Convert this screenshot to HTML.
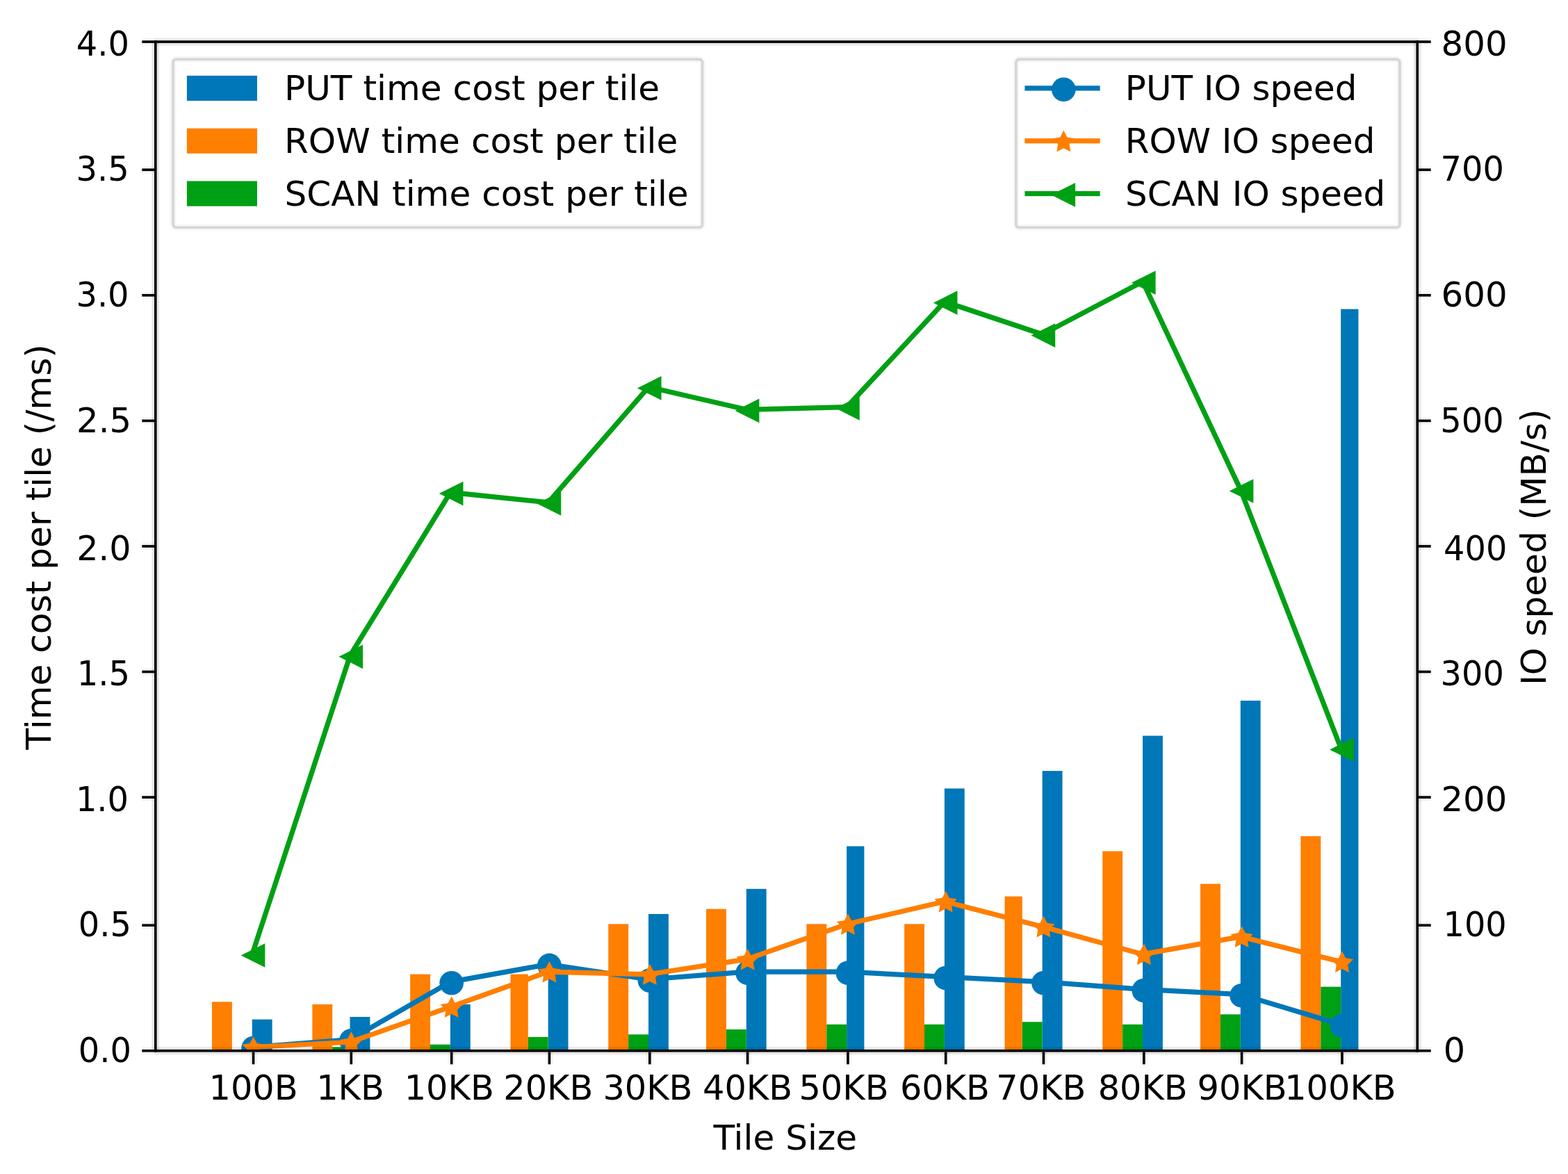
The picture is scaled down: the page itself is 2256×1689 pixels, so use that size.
<!DOCTYPE html>
<html lang="en">
<head>
<meta charset="utf-8">
<title>Tile size vs time cost and IO speed</title>
<style>
html,body{margin:0;padding:0;background:#ffffff;}
body{width:2256px;height:1689px;overflow:hidden;position:relative;font-family:"DejaVu Sans","Liberation Sans",sans-serif;}
svg{display:block;position:absolute;left:0;top:0;}
svg text{white-space:pre;}
</style>
</head>
<body>
<svg width="2256" height="1689" viewBox="0 0 2256 1689">
<rect x="0" y="0" width="2256" height="1689" fill="#ffffff"/>
<defs><clipPath id="axclip"><rect x="66.50" y="20.50" width="503.00" height="402.00"/></clipPath></defs>
<g transform="matrix(3.6093 0 0 3.611 -16.242 -13.926)" font-family="'DejaVu Sans', 'Liberation Sans', sans-serif" font-size="13.7" fill="#000000">
<g clip-path="url(#axclip)">
<rect x="105.00" y="410.00" width="8.00" height="12.50" fill="#0077b8" />
<rect x="89.00" y="403.00" width="8.00" height="19.50" fill="#ff7f00" />
<rect x="144.00" y="409.00" width="8.00" height="13.50" fill="#0077b8" />
<rect x="129.00" y="404.00" width="8.00" height="18.50" fill="#ff7f00" />
<rect x="137.00" y="421.00" width="7.00" height="1.50" fill="#00a014" />
<rect x="184.00" y="404.00" width="8.00" height="18.50" fill="#0077b8" />
<rect x="168.00" y="392.00" width="8.00" height="30.50" fill="#ff7f00" />
<rect x="176.00" y="420.00" width="8.00" height="2.50" fill="#00a014" />
<rect x="223.00" y="389.00" width="8.00" height="33.50" fill="#0077b8" />
<rect x="208.00" y="392.00" width="7.00" height="30.50" fill="#ff7f00" />
<rect x="215.00" y="417.00" width="8.00" height="5.50" fill="#00a014" />
<rect x="263.00" y="368.00" width="8.00" height="54.50" fill="#0077b8" />
<rect x="247.00" y="372.00" width="8.00" height="50.50" fill="#ff7f00" />
<rect x="255.00" y="416.00" width="8.00" height="6.50" fill="#00a014" />
<rect x="302.00" y="358.00" width="8.00" height="64.50" fill="#0077b8" />
<rect x="286.00" y="366.00" width="8.00" height="56.50" fill="#ff7f00" />
<rect x="294.00" y="414.00" width="8.00" height="8.50" fill="#00a014" />
<rect x="342.00" y="341.00" width="7.00" height="81.50" fill="#0077b8" />
<rect x="326.00" y="372.00" width="8.00" height="50.50" fill="#ff7f00" />
<rect x="334.00" y="412.00" width="8.00" height="10.50" fill="#00a014" />
<rect x="381.00" y="318.00" width="8.00" height="104.50" fill="#0077b8" />
<rect x="365.00" y="372.00" width="8.00" height="50.50" fill="#ff7f00" />
<rect x="373.00" y="412.00" width="8.00" height="10.50" fill="#00a014" />
<rect x="420.00" y="311.00" width="8.00" height="111.50" fill="#0077b8" />
<rect x="405.00" y="361.00" width="7.00" height="61.50" fill="#ff7f00" />
<rect x="412.00" y="411.00" width="8.00" height="11.50" fill="#00a014" />
<rect x="460.00" y="297.00" width="8.00" height="125.50" fill="#0077b8" />
<rect x="444.00" y="343.00" width="8.00" height="79.50" fill="#ff7f00" />
<rect x="452.00" y="412.00" width="8.00" height="10.50" fill="#00a014" />
<rect x="499.00" y="283.00" width="8.00" height="139.50" fill="#0077b8" />
<rect x="483.00" y="356.00" width="8.00" height="66.50" fill="#ff7f00" />
<rect x="491.00" y="408.00" width="8.00" height="14.50" fill="#00a014" />
<rect x="539.00" y="127.00" width="7.00" height="295.50" fill="#0077b8" />
<rect x="523.00" y="337.00" width="8.00" height="85.50" fill="#ff7f00" />
<rect x="531.00" y="397.00" width="8.00" height="25.50" fill="#00a014" />
</g>
<text x="34.920" y="26.000" textLength="21.094" lengthAdjust="spacingAndGlyphs">4.0</text>
<text x="34.870" y="76.000" textLength="21.094" lengthAdjust="spacingAndGlyphs">3.5</text>
<text x="34.820" y="126.000" textLength="21.094" lengthAdjust="spacingAndGlyphs">3.0</text>
<text x="35.010" y="176.000" textLength="21.867" lengthAdjust="spacingAndGlyphs">2.5</text>
<text x="35.060" y="227.000" textLength="21.647" lengthAdjust="spacingAndGlyphs">2.0</text>
<text x="35.220" y="277.000" textLength="21.094" lengthAdjust="spacingAndGlyphs">1.5</text>
<text x="34.670" y="327.000" textLength="21.094" lengthAdjust="spacingAndGlyphs">1.0</text>
<text x="35.770" y="377.000" textLength="21.094" lengthAdjust="spacingAndGlyphs">0.5</text>
<text x="35.770" y="427.000" textLength="21.094" lengthAdjust="spacingAndGlyphs">0.0</text>
<text x="87.751" y="442.000" textLength="35.498" lengthAdjust="spacingAndGlyphs">100B</text>
<text x="130.620" y="442.000" textLength="27.061" lengthAdjust="spacingAndGlyphs">1KB</text>
<text x="165.668" y="442.000" textLength="35.765" lengthAdjust="spacingAndGlyphs">10KB</text>
<text x="205.168" y="442.000" textLength="35.765" lengthAdjust="spacingAndGlyphs">20KB</text>
<text x="244.818" y="442.000" textLength="35.765" lengthAdjust="spacingAndGlyphs">30KB</text>
<text x="284.618" y="442.000" textLength="35.765" lengthAdjust="spacingAndGlyphs">40KB</text>
<text x="322.968" y="442.000" textLength="35.765" lengthAdjust="spacingAndGlyphs">50KB</text>
<text x="363.268" y="442.000" textLength="35.765" lengthAdjust="spacingAndGlyphs">60KB</text>
<text x="401.618" y="442.000" textLength="35.765" lengthAdjust="spacingAndGlyphs">70KB</text>
<text x="442.168" y="442.000" textLength="35.765" lengthAdjust="spacingAndGlyphs">80KB</text>
<text x="481.768" y="442.000" textLength="35.765" lengthAdjust="spacingAndGlyphs">90KB</text>
<text x="516.565" y="442.000" textLength="44.469" lengthAdjust="spacingAndGlyphs">100KB</text>
<text x="288.900" y="461.900" textLength="57.245" lengthAdjust="spacingAndGlyphs">Tile Size</text>
<text transform="translate(24.750,302.500) rotate(-90)" textLength="161.528" lengthAdjust="spacingAndGlyphs">Time cost per tile (/ms)</text>
<rect x="73.50" y="27.50" width="211.00" height="67.00" rx="1.3" ry="1.3" fill="#ffffff" fill-opacity="0.8" stroke="#f6f6f6" stroke-width="2.4"/>
<rect x="73.50" y="27.50" width="211.00" height="67.00" rx="1.3" ry="1.3" fill="none" stroke="#d6d6d6" stroke-width="1"/>
<rect x="79.00" y="34.00" width="28.00" height="10.00" fill="#0077b8" />
<text x="117.800" y="43.800" textLength="149.660" lengthAdjust="spacingAndGlyphs">PUT time cost per tile</text>
<rect x="79.00" y="55.00" width="28.00" height="10.00" fill="#ff7f00" />
<text x="117.800" y="64.800" textLength="156.950" lengthAdjust="spacingAndGlyphs">ROW time cost per tile</text>
<rect x="79.00" y="76.00" width="28.00" height="10.00" fill="#00a014" />
<text x="117.950" y="85.800" textLength="161.040" lengthAdjust="spacingAndGlyphs">SCAN time cost per tile</text>
<g clip-path="url(#axclip)">
<polyline points="105.05,421.05 144.05,418.05 184.05,395.05 223.05,388.05 263.05,394.05 302.05,391.05 342.05,391.05 381.05,393.05 420.05,395.05 460.05,398.05 499.05,400.05 539.05,412.05" fill="none" stroke="#0077b8" stroke-width="2.000" stroke-linejoin="round" stroke-linecap="butt"/>
<circle cx="105.50" cy="421.50" r="4.8" fill="#0077b8"/>
<circle cx="144.50" cy="418.50" r="4.8" fill="#0077b8"/>
<circle cx="184.50" cy="395.50" r="4.8" fill="#0077b8"/>
<circle cx="223.50" cy="388.50" r="4.8" fill="#0077b8"/>
<circle cx="263.50" cy="394.50" r="4.8" fill="#0077b8"/>
<circle cx="302.50" cy="391.50" r="4.8" fill="#0077b8"/>
<circle cx="342.50" cy="391.50" r="4.8" fill="#0077b8"/>
<circle cx="381.50" cy="393.50" r="4.8" fill="#0077b8"/>
<circle cx="420.50" cy="395.50" r="4.8" fill="#0077b8"/>
<circle cx="460.50" cy="398.50" r="4.8" fill="#0077b8"/>
<circle cx="499.50" cy="400.50" r="4.8" fill="#0077b8"/>
<circle cx="539.50" cy="412.50" r="4.8" fill="#0077b8"/>
<polyline points="105.05,421.05 144.05,419.05 184.05,405.05 223.05,391.05 263.05,392.05 302.05,386.05 342.05,372.05 381.05,363.05 420.05,373.05 460.05,384.05 499.05,377.05 539.05,387.05" fill="none" stroke="#ff7f00" stroke-width="2.000" stroke-linejoin="round" stroke-linecap="butt"/>
<polygon points="105.50,416.80 104.09,419.56 101.03,420.05 103.22,422.24 102.74,425.30 105.50,423.90 108.26,425.30 107.78,422.24 109.97,420.05 106.91,419.56" fill="#ff7f00"/>
<polygon points="144.50,414.80 143.09,417.56 140.03,418.05 142.22,420.24 141.74,423.30 144.50,421.90 147.26,423.30 146.78,420.24 148.97,418.05 145.91,417.56" fill="#ff7f00"/>
<polygon points="184.50,400.80 183.09,403.56 180.03,404.05 182.22,406.24 181.74,409.30 184.50,407.90 187.26,409.30 186.78,406.24 188.97,404.05 185.91,403.56" fill="#ff7f00"/>
<polygon points="223.50,386.80 222.09,389.56 219.03,390.05 221.22,392.24 220.74,395.30 223.50,393.90 226.26,395.30 225.78,392.24 227.97,390.05 224.91,389.56" fill="#ff7f00"/>
<polygon points="263.50,387.80 262.09,390.56 259.03,391.05 261.22,393.24 260.74,396.30 263.50,394.90 266.26,396.30 265.78,393.24 267.97,391.05 264.91,390.56" fill="#ff7f00"/>
<polygon points="302.50,381.80 301.09,384.56 298.03,385.05 300.22,387.24 299.74,390.30 302.50,388.90 305.26,390.30 304.78,387.24 306.97,385.05 303.91,384.56" fill="#ff7f00"/>
<polygon points="342.50,367.80 341.09,370.56 338.03,371.05 340.22,373.24 339.74,376.30 342.50,374.90 345.26,376.30 344.78,373.24 346.97,371.05 343.91,370.56" fill="#ff7f00"/>
<polygon points="381.50,358.80 380.09,361.56 377.03,362.05 379.22,364.24 378.74,367.30 381.50,365.90 384.26,367.30 383.78,364.24 385.97,362.05 382.91,361.56" fill="#ff7f00"/>
<polygon points="420.50,368.80 419.09,371.56 416.03,372.05 418.22,374.24 417.74,377.30 420.50,375.90 423.26,377.30 422.78,374.24 424.97,372.05 421.91,371.56" fill="#ff7f00"/>
<polygon points="460.50,379.80 459.09,382.56 456.03,383.05 458.22,385.24 457.74,388.30 460.50,386.90 463.26,388.30 462.78,385.24 464.97,383.05 461.91,382.56" fill="#ff7f00"/>
<polygon points="499.50,372.80 498.09,375.56 495.03,376.05 497.22,378.24 496.74,381.30 499.50,379.90 502.26,381.30 501.78,378.24 503.97,376.05 500.91,375.56" fill="#ff7f00"/>
<polygon points="539.50,382.80 538.09,385.56 535.03,386.05 537.22,388.24 536.74,391.30 539.50,389.90 542.26,391.30 541.78,388.24 543.97,386.05 540.91,385.56" fill="#ff7f00"/>
<polyline points="105.05,384.05 144.05,265.05 184.05,200.05 223.05,204.05 263.05,158.05 302.05,167.05 342.05,166.05 381.05,124.05 420.05,137.05 460.05,116.05 499.05,199.05 539.05,302.05" fill="none" stroke="#00a014" stroke-width="2.000" stroke-linejoin="round" stroke-linecap="butt"/>
<polygon points="100.55,384.50 110.15,379.70 110.15,389.30" fill="#00a014"/>
<polygon points="139.55,265.50 149.15,260.70 149.15,270.30" fill="#00a014"/>
<polygon points="179.55,200.50 189.15,195.70 189.15,205.30" fill="#00a014"/>
<polygon points="218.55,204.50 228.15,199.70 228.15,209.30" fill="#00a014"/>
<polygon points="258.55,158.50 268.15,153.70 268.15,163.30" fill="#00a014"/>
<polygon points="297.55,167.50 307.15,162.70 307.15,172.30" fill="#00a014"/>
<polygon points="337.55,166.50 347.15,161.70 347.15,171.30" fill="#00a014"/>
<polygon points="376.55,124.50 386.15,119.70 386.15,129.30" fill="#00a014"/>
<polygon points="415.55,137.50 425.15,132.70 425.15,142.30" fill="#00a014"/>
<polygon points="455.55,116.50 465.15,111.70 465.15,121.30" fill="#00a014"/>
<polygon points="494.55,199.50 504.15,194.70 504.15,204.30" fill="#00a014"/>
<polygon points="534.55,302.50 544.15,297.70 544.15,307.30" fill="#00a014"/>
</g>
<g>
<rect x="61.10" y="19.00" width="4.90" height="3.00" fill="#000" fill-opacity="0.04"/>
<rect x="61.10" y="20.00" width="4.90" height="1.00" fill="#000" />
<rect x="570.00" y="19.00" width="4.90" height="3.00" fill="#000" fill-opacity="0.04"/>
<rect x="570.00" y="20.00" width="4.90" height="1.00" fill="#000" />
<rect x="61.10" y="70.00" width="4.90" height="3.00" fill="#000" fill-opacity="0.04"/>
<rect x="61.10" y="71.00" width="4.90" height="1.00" fill="#000" />
<rect x="570.00" y="70.00" width="4.90" height="3.00" fill="#000" fill-opacity="0.04"/>
<rect x="570.00" y="71.00" width="4.90" height="1.00" fill="#000" />
<rect x="61.10" y="120.00" width="4.90" height="3.00" fill="#000" fill-opacity="0.04"/>
<rect x="61.10" y="121.00" width="4.90" height="1.00" fill="#000" />
<rect x="570.00" y="120.00" width="4.90" height="3.00" fill="#000" fill-opacity="0.04"/>
<rect x="570.00" y="121.00" width="4.90" height="1.00" fill="#000" />
<rect x="61.10" y="170.00" width="4.90" height="3.00" fill="#000" fill-opacity="0.04"/>
<rect x="61.10" y="171.00" width="4.90" height="1.00" fill="#000" />
<rect x="570.00" y="170.00" width="4.90" height="3.00" fill="#000" fill-opacity="0.04"/>
<rect x="570.00" y="171.00" width="4.90" height="1.00" fill="#000" />
<rect x="61.10" y="220.00" width="4.90" height="3.00" fill="#000" fill-opacity="0.04"/>
<rect x="61.10" y="221.00" width="4.90" height="1.00" fill="#000" />
<rect x="570.00" y="220.00" width="4.90" height="3.00" fill="#000" fill-opacity="0.04"/>
<rect x="570.00" y="221.00" width="4.90" height="1.00" fill="#000" />
<rect x="61.10" y="270.00" width="4.90" height="3.00" fill="#000" fill-opacity="0.04"/>
<rect x="61.10" y="271.00" width="4.90" height="1.00" fill="#000" />
<rect x="570.00" y="270.00" width="4.90" height="3.00" fill="#000" fill-opacity="0.04"/>
<rect x="570.00" y="271.00" width="4.90" height="1.00" fill="#000" />
<rect x="61.10" y="320.00" width="4.90" height="3.00" fill="#000" fill-opacity="0.04"/>
<rect x="61.10" y="321.00" width="4.90" height="1.00" fill="#000" />
<rect x="570.00" y="320.00" width="4.90" height="3.00" fill="#000" fill-opacity="0.04"/>
<rect x="570.00" y="321.00" width="4.90" height="1.00" fill="#000" />
<rect x="61.10" y="371.00" width="4.90" height="3.00" fill="#000" fill-opacity="0.04"/>
<rect x="61.10" y="372.00" width="4.90" height="1.00" fill="#000" />
<rect x="570.00" y="371.00" width="4.90" height="3.00" fill="#000" fill-opacity="0.04"/>
<rect x="570.00" y="372.00" width="4.90" height="1.00" fill="#000" />
<rect x="61.10" y="421.00" width="4.90" height="3.00" fill="#000" fill-opacity="0.04"/>
<rect x="61.10" y="422.00" width="4.90" height="1.00" fill="#000" />
<rect x="570.00" y="421.00" width="4.90" height="3.00" fill="#000" fill-opacity="0.04"/>
<rect x="570.00" y="422.00" width="4.90" height="1.00" fill="#000" />
<rect x="104.00" y="423.00" width="3.00" height="4.90" fill="#000" fill-opacity="0.04"/>
<rect x="105.00" y="423.00" width="1.00" height="4.90" fill="#000" />
<rect x="143.00" y="423.00" width="3.00" height="4.90" fill="#000" fill-opacity="0.04"/>
<rect x="144.00" y="423.00" width="1.00" height="4.90" fill="#000" />
<rect x="183.00" y="423.00" width="3.00" height="4.90" fill="#000" fill-opacity="0.04"/>
<rect x="184.00" y="423.00" width="1.00" height="4.90" fill="#000" />
<rect x="222.00" y="423.00" width="3.00" height="4.90" fill="#000" fill-opacity="0.04"/>
<rect x="223.00" y="423.00" width="1.00" height="4.90" fill="#000" />
<rect x="262.00" y="423.00" width="3.00" height="4.90" fill="#000" fill-opacity="0.04"/>
<rect x="263.00" y="423.00" width="1.00" height="4.90" fill="#000" />
<rect x="301.00" y="423.00" width="3.00" height="4.90" fill="#000" fill-opacity="0.04"/>
<rect x="302.00" y="423.00" width="1.00" height="4.90" fill="#000" />
<rect x="341.00" y="423.00" width="3.00" height="4.90" fill="#000" fill-opacity="0.04"/>
<rect x="342.00" y="423.00" width="1.00" height="4.90" fill="#000" />
<rect x="380.00" y="423.00" width="3.00" height="4.90" fill="#000" fill-opacity="0.04"/>
<rect x="381.00" y="423.00" width="1.00" height="4.90" fill="#000" />
<rect x="419.00" y="423.00" width="3.00" height="4.90" fill="#000" fill-opacity="0.04"/>
<rect x="420.00" y="423.00" width="1.00" height="4.90" fill="#000" />
<rect x="459.00" y="423.00" width="3.00" height="4.90" fill="#000" fill-opacity="0.04"/>
<rect x="460.00" y="423.00" width="1.00" height="4.90" fill="#000" />
<rect x="498.00" y="423.00" width="3.00" height="4.90" fill="#000" fill-opacity="0.04"/>
<rect x="499.00" y="423.00" width="1.00" height="4.90" fill="#000" />
<rect x="538.00" y="423.00" width="3.00" height="4.90" fill="#000" fill-opacity="0.04"/>
<rect x="539.00" y="423.00" width="1.00" height="4.90" fill="#000" />
<rect x="66.00" y="19.00" width="504.00" height="3.00" fill="#000" fill-opacity="0.09"/>
<rect x="66.00" y="20.00" width="504.00" height="1.00" fill="#000" />
<rect x="66.00" y="421.00" width="504.00" height="3.00" fill="#000" fill-opacity="0.09"/>
<rect x="66.00" y="422.00" width="504.00" height="1.00" fill="#000" />
<rect x="65.00" y="20.00" width="3.00" height="403.00" fill="#000" fill-opacity="0.09"/>
<rect x="66.00" y="20.00" width="1.00" height="403.00" fill="#000" />
<rect x="568.00" y="20.00" width="3.00" height="403.00" fill="#000" fill-opacity="0.09"/>
<rect x="569.00" y="20.00" width="1.00" height="403.00" fill="#000" />
</g>
<text x="579.020" y="26.000" textLength="26.377" lengthAdjust="spacingAndGlyphs">800</text>
<text x="578.710" y="76.000" textLength="25.317" lengthAdjust="spacingAndGlyphs">700</text>
<text x="579.020" y="126.000" textLength="26.377" lengthAdjust="spacingAndGlyphs">600</text>
<text x="578.660" y="176.000" textLength="25.317" lengthAdjust="spacingAndGlyphs">500</text>
<text x="579.960" y="227.000" textLength="25.317" lengthAdjust="spacingAndGlyphs">400</text>
<text x="578.710" y="277.000" textLength="25.317" lengthAdjust="spacingAndGlyphs">300</text>
<text x="578.990" y="327.000" textLength="26.245" lengthAdjust="spacingAndGlyphs">200</text>
<text x="579.810" y="377.000" textLength="25.317" lengthAdjust="spacingAndGlyphs">100</text>
<text x="579.920" y="427.000" textLength="8.704" lengthAdjust="spacingAndGlyphs">0</text>
<text transform="translate(620.800,276.900) rotate(-90)" textLength="110.082" lengthAdjust="spacingAndGlyphs">IO speed (MB/s)</text>
<rect x="409.50" y="27.50" width="153.00" height="67.00" rx="1.3" ry="1.3" fill="#ffffff" fill-opacity="0.8" stroke="#f6f6f6" stroke-width="2.4"/>
<rect x="409.50" y="27.50" width="153.00" height="67.00" rx="1.3" ry="1.3" fill="none" stroke="#d6d6d6" stroke-width="1"/>
<rect x="413.00" y="38.00" width="30.00" height="2.00" fill="#0077b8" />
<circle cx="428.50" cy="39.50" r="4.8" fill="#0077b8"/>
<text x="453.030" y="43.800" textLength="92.378" lengthAdjust="spacingAndGlyphs">PUT IO speed</text>
<rect x="413.00" y="59.00" width="30.00" height="2.00" fill="#ff7f00" />
<polygon points="428.50,55.80 427.09,58.56 424.03,59.05 426.22,61.24 425.74,64.30 428.50,62.90 431.26,64.30 430.78,61.24 432.97,59.05 429.91,58.56" fill="#ff7f00"/>
<text x="453.000" y="64.800" textLength="99.632" lengthAdjust="spacingAndGlyphs">ROW IO speed</text>
<rect x="413.00" y="80.00" width="30.00" height="2.00" fill="#00a014" />
<polygon points="423.55,81.50 433.15,76.70 433.15,86.30" fill="#00a014"/>
<text x="453.060" y="85.800" textLength="103.701" lengthAdjust="spacingAndGlyphs">SCAN IO speed</text>
</g>
</svg>
</body>
</html>
